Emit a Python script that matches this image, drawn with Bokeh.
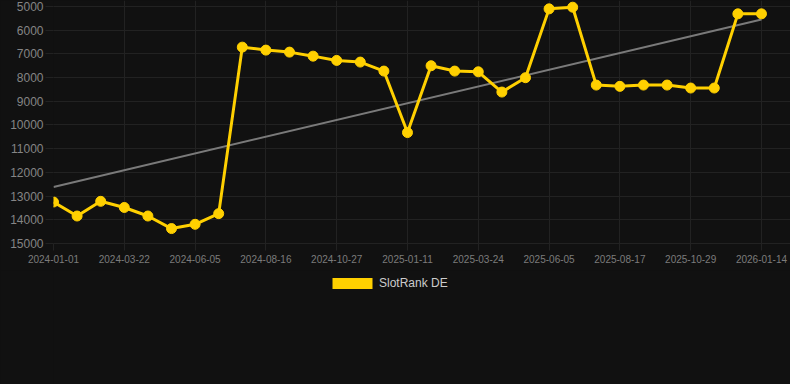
from bokeh.plotting import figure
from bokeh.layouts import column
from bokeh.models import Range1d, FixedTicker, Legend, LegendItem, ColumnDataSource
from bokeh.embed import file_html
from bokeh.resources import INLINE

# ---- data ----
tick_labels = ["2024-01-01", "2024-03-22", "2024-06-05", "2024-08-16", "2024-10-27",
               "2025-01-11", "2025-03-24", "2025-06-05", "2025-08-17", "2025-10-29",
               "2026-01-14"]
rank_values = [13250, 13840, 13220, 13480, 13840, 14370, 14190, 13740,
               6715, 6840, 6925, 7095, 7275, 7345, 7725, 10320,
               7500, 7725, 7755, 8610, 8005, 5100, 5030, 8315,
               8370, 8315, 8315, 8440, 8440, 5310, 5310]
trend_values = [12615, 5548]
y_ticks = [5000, 6000, 7000, 8000, 9000, 10000, 11000, 12000, 13000, 14000, 15000]
series_name = "SlotRank DE"

BG = "#111111"
GRID = "#222222"
YELLOW = "#FFD000"
FONT = "Liberation Sans"

idx = list(range(len(rank_values)))
tick_step = 3
tick_pos = idx[::tick_step]

p = figure(width=790, height=270, output_backend="svg", toolbar_location=None,
           x_range=Range1d(0, 31.23), y_range=Range1d(15000, 4747),
           background_fill_color=BG, border_fill_color=BG,
           min_border_left=53, min_border_right=0, min_border_top=0,
           min_border_bottom=27)
p.styles = {"background-color": BG}
p.outline_line_color = None

# axes
p.xaxis.ticker = FixedTicker(ticks=tick_pos)
p.xaxis.major_label_overrides = {i: lab for i, lab in zip(tick_pos, tick_labels)}
p.xaxis.minor_tick_line_color = None
p.xaxis.major_tick_out = 7
p.xaxis.major_tick_in = 0
p.xaxis.major_tick_line_color = GRID
p.xaxis.axis_line_color = GRID
p.xaxis.major_label_standoff = 4
p.xaxis.major_label_text_font = FONT
p.xaxis.major_label_text_font_size = "10px"
p.xaxis.major_label_text_color = "#7c7c7c"

p.yaxis.ticker = FixedTicker(ticks=y_ticks)
p.yaxis.minor_tick_line_color = None
p.yaxis.major_tick_out = 8
p.yaxis.major_tick_in = 0
p.yaxis.major_tick_line_color = GRID
p.yaxis.axis_line_color = None
p.yaxis.major_label_standoff = 2
p.yaxis.major_label_text_font = FONT
p.yaxis.major_label_text_font_size = "12px"
p.yaxis.major_label_text_color = "#858585"

p.xgrid.ticker = FixedTicker(ticks=tick_pos)
p.ygrid.ticker = FixedTicker(ticks=y_ticks)
p.grid.grid_line_color = GRID
p.grid.grid_line_width = 1

# trend line
p.line(x=[idx[0], idx[-1]], y=trend_values, line_color="#7a7a7a", line_width=2)

# main series
src = ColumnDataSource(dict(x=idx, y=rank_values))
p.line("x", "y", source=src, line_color=YELLOW, line_width=3)
p.scatter("x", "y", source=src, size=10, fill_color=YELLOW, line_color=YELLOW)

# legend strip below the chart
pl = figure(width=790, height=114, output_backend="svg", toolbar_location=None,
            x_range=Range1d(0, 1), y_range=Range1d(0, 1),
            x_axis_location=None, y_axis_location=None,
            background_fill_color=BG, border_fill_color=BG,
            min_border_left=0, min_border_right=0, min_border_top=0,
            min_border_bottom=0)
pl.styles = {"background-color": BG}
pl.grid.visible = False
pl.outline_line_color = None
# zero-size swatch source: only its legend box is visible
sw_src = ColumnDataSource(dict(l=[0], r=[0], t=[0], b=[0]))
swatch = pl.quad(left="l", right="r", top="t", bottom="b", source=sw_src,
                 fill_color=YELLOW, line_color=None)
legend = Legend(items=[LegendItem(label=series_name, renderers=[swatch])],
                location=(274, 94), orientation="horizontal",
                glyph_width=50, glyph_height=14, label_height=14,
                label_standoff=2, padding=0, margin=0, spacing=0,
                border_line_color=None, background_fill_alpha=0,
                label_text_color="#cccccc", label_text_font=FONT,
                label_text_font_size="12px")
pl.add_layout(legend, "center")

open("out.html", "w").write(file_html(column(p, pl, spacing=0), INLINE))
